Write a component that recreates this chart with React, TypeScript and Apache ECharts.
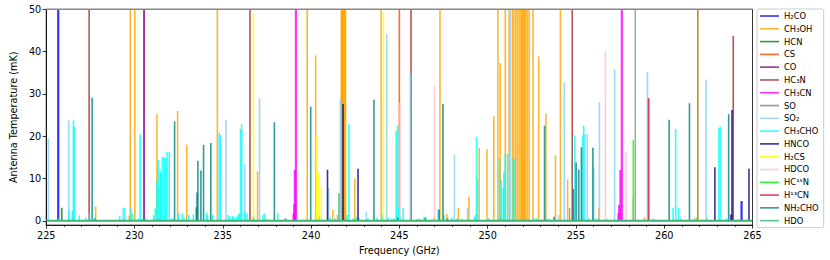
import React, { useEffect, useRef } from "react";
import * as echarts from "echarts";

const FONT = "DejaVu Sans";

const speciesNames = ["H₂CO", "CH₃OH", "HCN", "CS", "CO", "HC₃N", "CH₃CN", "SO", "SO₂", "CH₃CHO", "HNCO", "H₂CS", "HDCO", "HC¹⁵N", "H¹³CN", "NH₂CHO", "HDO"];
const speciesColors = ["#0000ff", "#ffa500", "#008000", "#ff4500", "#800080", "#a52a2a", "#ff00ff", "#808080", "#87cefa", "#00ffff", "#000080", "#ffff00", "#ffc0cb", "#00ff00", "#dc143c", "#008080", "#3cb371"];
const speciesWidths = [2.2, 1.6, 1.6, 1.6, 1.9, 1.6, 2.2, 1.3, 1.6, 1.6, 1.6, 1.6, 1.6, 1.6, 1.9, 1.6, 1.6];

const xTicks = [225, 230, 235, 240, 245, 250, 255, 260, 265];
const yTicks = [0, 10, 20, 30, 40, 50];

// [frequency GHz, antenna temperature mK]
const h2co = [[225.68, 80], [264.38, 4.7]];
const ch3oh = [
  [227.80, 3.4], [229.70, 1.3], [229.76, 80], [230.02, 80], [231.27, 25.2], [232.44, 26.0], [232.96, 18.0],
  [234.69, 80], [236.97, 11.7], [237.47, 0.5], [239.78, 80], [240.26, 39.1], [241.23, 2.6], [241.49, 1.4],
  [241.71, 80], [241.74, 80], [241.77, 80], [241.80, 80], [241.83, 80], [241.86, 80], [241.89, 80], [241.92, 80], [241.95, 80],
  [242.48, 10.0], [243.97, 80], [246.14, 0.5], [246.95, 0.8], [247.30, 80], [247.69, 1.6], [248.34, 3.1], [248.55, 0.5],
  [248.94, 5.7], [249.52, 17.3], [249.96, 17.0], [250.35, 24.8], [250.58, 80], [250.71, 37.3], [251.00, 80], [251.22, 80],
  [251.40, 80], [251.49, 80], [251.60, 80], [251.69, 80], [251.79, 80], [251.88, 80], [251.94, 80], [251.99, 80],
  [252.05, 80], [252.10, 80], [252.16, 80], [252.25, 80], [252.35, 80], [252.57, 80], [252.89, 38.9], [253.30, 25.4],
  [253.84, 15.5], [254.12, 80], [254.53, 9.8], [256.30, 3.0], [258.88, 0.8], [261.81, 0.8], [261.90, 80],
];
const hcn = [[225.88, 3.1]];
const cs = [[245.00, 80]];
const co = [[230.54, 80]];
const hc3n = [[227.43, 80], [236.54, 80], [245.66, 80], [254.79, 80], [263.91, 43.75]];
const ch3cn = [[239.01, 1.8], [239.05, 3.9], [239.08, 12.0], [239.14, 80], [257.41, 1.8], [257.45, 3.75], [257.52, 12.0], [257.60, 80]];
const so = [[254.64, 3.0], [258.36, 80], [261.90, 80]];
const so2 = [
  [225.12, 19.5], [226.28, 23.7], [229.35, 3.1], [235.18, 23.9], [236.24, 13.5], [237.08, 29.0], [240.99, 7.8],
  [241.66, 28.75], [243.13, 2.2], [244.28, 44.1], [245.62, 34.8], [248.12, 15.7], [248.86, 3.1], [251.27, 80],
  [254.02, 1.4], [254.34, 32.7], [255.51, 20.5], [255.64, 20.5], [256.01, 12.7], [256.33, 28.1], [257.19, 35.8],
  [259.05, 35.2], [262.37, 33.4], [262.42, 0.8],
];
const ch3cho = [
  [225.72, 0.6], [226.28, 2.4], [226.48, 2.4], [226.54, 23.8], [226.59, 22.3], [226.87, 1.25], [227.25, 0.8], [227.46, 1.8],
  [229.16, 1.2], [229.44, 3.1], [229.80, 3.1], [229.88, 1.8], [230.22, 0.6], [230.32, 20.5], [230.42, 0.6], [230.62, 0.8],
  [231.08, 1.4], [231.17, 3.0], [231.27, 9.4], [231.34, 14.5], [231.40, 7.7], [231.45, 12.1], [231.51, 11.2], [231.58, 15.1],
  [231.69, 15.1], [231.77, 14.7], [231.84, 16.25], [231.97, 16.25], [232.10, 0.6], [232.18, 0.5], [232.51, 1.8], [232.70, 1.8],
  [232.81, 0.6], [233.07, 1.4], [233.33, 1.5], [234.08, 2.0], [234.13, 1.4], [234.43, 1.5], [234.80, 20.8], [234.88, 20.3],
  [235.31, 1.4], [235.40, 1.0], [235.55, 1.2], [235.64, 1.0], [235.77, 1.0], [235.87, 1.4], [235.92, 1.8], [236.00, 21.7],
  [236.07, 22.8], [236.26, 2.2], [236.37, 1.8], [237.28, 1.4], [237.36, 1.8], [238.12, 1.8], [239.22, 0.6], [240.48, 1.4],
  [241.08, 0.8], [241.36, 0.6], [242.04, 1.4], [242.14, 22.9], [242.38, 0.6], [242.57, 1.0], [242.72, 0.6], [243.22, 0.6],
  [243.74, 0.8], [244.02, 1.5], [244.37, 0.8], [244.58, 0.6], [244.71, 0.6], [244.82, 21.3], [244.90, 22.5], [244.97, 3.1],
  [245.08, 1.0], [245.21, 3.1], [246.02, 0.5], [246.40, 1.0], [247.20, 2.7], [247.52, 1.4], [247.97, 0.8], [248.27, 0.6],
  [249.24, 1.0], [249.33, 1.4], [249.37, 19.9], [249.42, 10.0], [250.07, 0.6], [250.67, 14.7], [250.77, 9.6], [250.88, 7.7],
  [250.92, 11.5], [251.00, 15.9], [251.13, 15.9], [251.45, 14.7], [251.55, 14.7], [252.63, 0.6], [252.79, 0.6], [253.45, 0.6],
  [254.93, 20.2], [255.38, 20.2], [255.44, 22.5], [255.75, 0.6], [256.16, 0.6], [256.76, 0.4], [259.39, 0.6], [260.50, 3.1],
  [260.65, 21.7], [260.80, 3.1], [260.93, 0.6], [261.68, 0.6], [263.10, 21.9], [263.17, 22.3], [263.54, 0.6], [264.20, 0.4],
];
const hnco = [[240.93, 12.1], [241.81, 27.6], [242.66, 12.3], [262.87, 12.7], [263.78, 1.5], [263.84, 26.2], [264.80, 12.3]];
const h2cs = [[236.74, 48.9], [240.30, 20.3], [240.43, 11.2], [240.58, 7.8], [244.10, 49.3]];
const hdco = [[245.03, 28.0], [246.99, 32.0], [256.67, 40.1], [257.84, 16.4], [258.20, 5.3]];
const hc15n = [[236.74, 0.8], [258.25, 19.1]];
const h13cn = [[259.12, 29.0]];
const nh2cho = [
  [227.60, 29.1], [227.75, 0.6], [232.27, 23.5], [233.50, 3.2], [233.54, 6.7], [233.59, 14.2], [233.76, 11.9], [233.91, 18.0],
  [234.32, 18.4], [237.92, 23.3], [238.55, 0.6], [239.98, 27.0], [243.56, 28.6], [244.90, 0.8], [246.48, 0.8], [247.25, 2.6],
  [247.47, 27.6], [247.73, 0.6], [253.22, 22.5], [253.76, 1.0], [254.86, 7.5], [255.01, 13.8], [255.16, 12.1], [255.31, 17.4],
  [255.96, 17.3], [260.28, 23.9], [261.43, 27.8], [263.65, 25.2],
];
const hdo = [[241.58, 6.5]];

const speciesData = [h2co, ch3oh, hcn, cs, co, hc3n, ch3cn, so, so2, ch3cho, hnco, h2cs, hdco, hc15n, h13cn, nh2cho, hdo];

const X_MIN = 225, X_MAX = 265, Y_MIN = -1, Y_MAX = 50;
const ALPHA = 0.8;

export default function App() {
  const ref = useRef<HTMLDivElement>(null);
  useEffect(() => {
    if (!ref.current) return;
    const chart = echarts.init(ref.current, null, { renderer: "svg" });
    const stickSeries = speciesNames.map((name, i) => ({
      name,
      type: "custom",
      coordinateSystem: "cartesian2d",
      encode: { x: 0, y: 1 },
      itemStyle: { color: speciesColors[i] },
      data: speciesData[i],
      renderItem: (params: any, api: any) => {
        const f = api.value(0);
        const t = api.value(1);
        const base = api.coord([f, 0]);
        const top = api.coord([f, t]);
        const cs = params.coordSys;
        return {
          type: "line",
          shape: { x1: base[0], y1: base[1], x2: top[0], y2: Math.max(top[1], cs.y) },
          style: { stroke: speciesColors[i], lineWidth: speciesWidths[i], opacity: ALPHA },
        };
      },
    }));
    chart.setOption({
      animation: false,
      textStyle: { fontFamily: FONT },
      grid: { left: 35.5, right: 77.5, top: 9.3, bottom: 33.3, show: true, borderColor: "#000", borderWidth: 0.8 },
      legend: {
        orient: "vertical",
        left: 757,
        top: 9,
        data: speciesNames.map((n, i) => ({ name: n, icon: "rect", itemStyle: { color: speciesColors[i], opacity: ALPHA } })),
        itemWidth: 19,
        itemHeight: 1.6,
        itemGap: 2.79,
        padding: [2, 5, 2, 3],
        textStyle: { fontSize: 8.4, lineHeight: 10, color: "#000", fontFamily: FONT },
        borderColor: "#cccccc",
        borderWidth: 1,
        borderRadius: 2,
        backgroundColor: "#fff",
      },
      xAxis: {
        type: "value",
        min: X_MIN,
        max: X_MAX,
        interval: 5,
        name: "Frequency (GHz)",
        nameLocation: "middle",
        nameGap: 17,
        nameTextStyle: { fontSize: 9.7, color: "#000", fontFamily: FONT },
        axisLine: { show: true, onZero: false, lineStyle: { color: "#000", width: 0.8 } },
        axisTick: { show: true, length: 3.5, lineStyle: { color: "#000", width: 0.8 } },
        minorTick: { show: true, splitNumber: 5, length: 2, lineStyle: { color: "#000", width: 0.6 } },
        splitLine: { show: false },
        minorSplitLine: { show: false },
        axisLabel: { fontSize: 9.7, color: "#000", margin: 5, fontFamily: FONT, customValues: xTicks },
      },
      yAxis: {
        type: "value",
        min: Y_MIN,
        max: Y_MAX,
        name: "Antenna Temperature (mK)",
        nameLocation: "middle",
        nameGap: 20,
        nameTextStyle: { fontSize: 9.7, color: "#000", fontFamily: FONT },
        axisLine: { show: true, onZero: false, lineStyle: { color: "#000", width: 0.8 } },
        axisTick: { show: true, length: 3.5, lineStyle: { color: "#000", width: 0.8 }, customValues: yTicks },
        splitLine: { show: false },
        axisLabel: { fontSize: 9.7, color: "#000", margin: 5, fontFamily: FONT, customValues: yTicks },
      },
      series: [
        ...stickSeries,
        {
          name: "baseline",
          type: "line",
          data: [[X_MIN, 0], [X_MAX, 0]],
          symbol: "none",
          lineStyle: { color: "#3cb371", width: 2 },
          z: 3,
        },
        {
          name: "top",
          type: "line",
          data: [[X_MIN, Y_MAX], [X_MAX, Y_MAX]],
          symbol: "none",
          lineStyle: { color: "#888888", width: 1.6 },
          z: 3,
        },
      ],
    });
    return () => chart.dispose();
  }, []);
  return <div ref={ref} style={{ position: "absolute", left: 0, top: 0, width: 830, height: 260 }} />;
}
